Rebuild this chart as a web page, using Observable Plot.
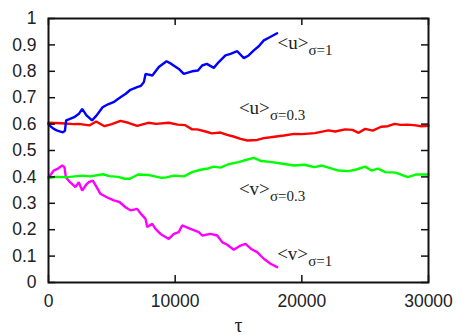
<!DOCTYPE html>
<html><head><meta charset="utf-8">
<script src="https://cdn.jsdelivr.net/npm/d3@7"></script>
<script src="https://cdn.jsdelivr.net/npm/@observablehq/plot@0.6"></script>
<style>body{margin:0;background:#fff;}</style>
</head><body><div id="chart"></div>
<script>
// <u> sigma=1 (blue)
const uSigma1 = [[0,0.60],[200,0.59],[420,0.582],[700,0.575],[1130,0.569],[1300,0.575],[1390,0.614],[1700,0.62],[2030,0.626],[2400,0.639],[2660,0.658],[3000,0.633],[3440,0.614],[3800,0.633],[4270,0.664],[4700,0.675],[5130,0.683],[5680,0.702],[6100,0.715],[6470,0.73],[7000,0.740],[7300,0.745],[7530,0.759],[7660,0.79],[8200,0.784],[8710,0.816],[9320,0.838],[9700,0.828],[10290,0.809],[10680,0.79],[11340,0.80],[11800,0.803],[12130,0.822],[12500,0.828],[13050,0.813],[13440,0.835],[13970,0.86],[14370,0.866],[14900,0.876],[15420,0.85],[15800,0.86],[16210,0.879],[16600,0.895],[17000,0.917],[17500,0.93],[18050,0.944]];
// <u> sigma=0.3 (red)
const uSigma03 = [[0,0.605],[1000,0.603],[2000,0.60],[2390,0.601],[3230,0.595],[3760,0.61],[4420,0.592],[5000,0.60],[5680,0.612],[6300,0.605],[7000,0.593],[7870,0.605],[8500,0.601],[9500,0.605],[10200,0.598],[10800,0.596],[11340,0.58],[11740,0.58],[12400,0.572],[12900,0.565],[13580,0.568],[14100,0.559],[14600,0.553],[15160,0.544],[15700,0.538],[16480,0.54],[17000,0.547],[17530,0.55],[18580,0.557],[19400,0.563],[20000,0.562],[21030,0.566],[22100,0.576],[22630,0.572],[23420,0.58],[24000,0.578],[24480,0.567],[25000,0.582],[25600,0.575],[26260,0.59],[26790,0.592],[27320,0.601],[27800,0.597],[28370,0.598],[29000,0.595],[29420,0.592],[30000,0.594]];
// <v> sigma=0.3 (green)
const vSigma03 = [[0,0.395],[500,0.40],[1500,0.399],[2660,0.405],[3300,0.402],[4310,0.41],[4800,0.403],[5500,0.40],[6020,0.393],[6420,0.393],[7070,0.409],[7950,0.407],[8840,0.397],[9300,0.398],[9900,0.405],[10700,0.402],[11340,0.418],[12000,0.427],[12600,0.432],[13050,0.439],[13580,0.435],[14200,0.448],[15000,0.456],[15420,0.462],[16210,0.472],[16800,0.46],[17500,0.457],[18500,0.45],[19400,0.443],[20200,0.446],[20980,0.437],[21600,0.443],[22300,0.432],[22900,0.424],[23700,0.422],[24300,0.428],[24990,0.439],[25500,0.424],[26000,0.431],[26600,0.418],[27400,0.416],[28370,0.399],[29000,0.409],[30000,0.409]];
// <v> sigma=1 (magenta)
const vSigma1 = [[0,0.399],[200,0.41],[400,0.424],[700,0.43],[1080,0.443],[1260,0.437],[1370,0.399],[1700,0.38],[2130,0.361],[2390,0.38],[2660,0.348],[3000,0.372],[3180,0.38],[3500,0.386],[3800,0.361],[4100,0.336],[4600,0.323],[5160,0.311],[5600,0.305],[6080,0.285],[6500,0.273],[7000,0.279],[7260,0.262],[7660,0.241],[7790,0.21],[8190,0.222],[8450,0.203],[8840,0.184],[9500,0.165],[9900,0.184],[10290,0.191],[10550,0.216],[11210,0.203],[11870,0.191],[12130,0.178],[12790,0.184],[13320,0.178],[13710,0.153],[14110,0.143],[14630,0.124],[15160,0.14],[15550,0.146],[16000,0.127],[16470,0.115],[17000,0.09],[17530,0.071],[18050,0.058]];

const seriesNames = ["vSigma1", "uSigma03", "vSigma03", "uSigma1"];
const seriesColors = ["#ff00ff", "#ff0000", "#00ff00", "#0000ff"];
const seriesData = [vSigma1, uSigma03, vSigma03, uSigma1];

const xTicks = [0, 10000, 20000, 30000];
const yTicks = [0, 0.1, 0.2, 0.3, 0.4, 0.5, 0.6, 0.7, 0.8, 0.9, 1];

const labelMain = ["<u>", "<u>", "<v>", "<v>"];
const labelSub = ["σ=1", "σ=0.3", "σ=0.3", "σ=1"];
const labelTau = [18080, 15030, 15030, 18050];
const labelVal = [0.885, 0.639, 0.333, 0.086];
const xLabel = "τ";

const rows = seriesNames.flatMap((name, i) => seriesData[i].map(([t, v]) => ({t, v, s: name})));
const labels = labelMain.map((m, i) => ({main: m, sub: labelSub[i], t: labelTau[i], v: labelVal[i]}));

const W = 458, H = 335, mL = 48, mR = 30, mT = 18, mB = 53;
const innerW = W - mL - mR, innerH = H - mT - mB;
const tickLen = 7;
const serif = "'Liberation Serif', 'Times New Roman', serif";

const chart = Plot.plot({
  width: W, height: H,
  marginLeft: mL, marginRight: mR, marginTop: mT, marginBottom: mB,
  style: {fontFamily: "'Liberation Sans', Arial, sans-serif", fontSize: "17px", color: "#222", background: "#fff"},
  x: {domain: [0, 30000]},
  y: {domain: [0, 1]},
  color: {domain: seriesNames, range: seriesColors},
  marks: [
    Plot.axisY(yTicks, {tickSize: 0, tickPadding: 12, tickFormat: d => String(d), label: null, fontSize: 17.5}),
    Plot.axisX(xTicks, {tickSize: 0, tickPadding: 12, tickFormat: d => String(d), label: null, fontSize: 17.5}),
    Plot.line(rows, {x: "t", y: "v", z: "s", stroke: "s", strokeWidth: 2.4, strokeLinejoin: "miter"}),
    Plot.tickY(yTicks, {y: d => d, insetRight: innerW - tickLen, stroke: "#111", strokeWidth: 1.5}),
    Plot.tickY(yTicks, {y: d => d, insetLeft: innerW - tickLen, stroke: "#111", strokeWidth: 1.5}),
    Plot.tickX(xTicks, {x: d => d, insetTop: innerH - tickLen, stroke: "#111", strokeWidth: 1.5}),
    Plot.tickX(xTicks, {x: d => d, insetBottom: innerH - tickLen, stroke: "#111", strokeWidth: 1.5}),
    Plot.frame({stroke: "#111", strokeWidth: 2}),
    Plot.text(labels, {x: "t", y: "v", text: "main", textAnchor: "start", lineAnchor: "bottom", fontFamily: serif, fontSize: 19, fill: "#222"}),
    Plot.text(labels, {x: "t", y: "v", text: "sub", textAnchor: "start", lineAnchor: "bottom", dx: 31, dy: 6.5, fontFamily: serif, fontSize: 15, fill: "#222"}),
    Plot.text([xLabel], {text: d => d, frameAnchor: "bottom", lineAnchor: "bottom", dy: 49, fontFamily: serif, fontSize: 20, fill: "#222"})
  ]
});
document.getElementById("chart").appendChild(chart);
</script>
</body></html>
